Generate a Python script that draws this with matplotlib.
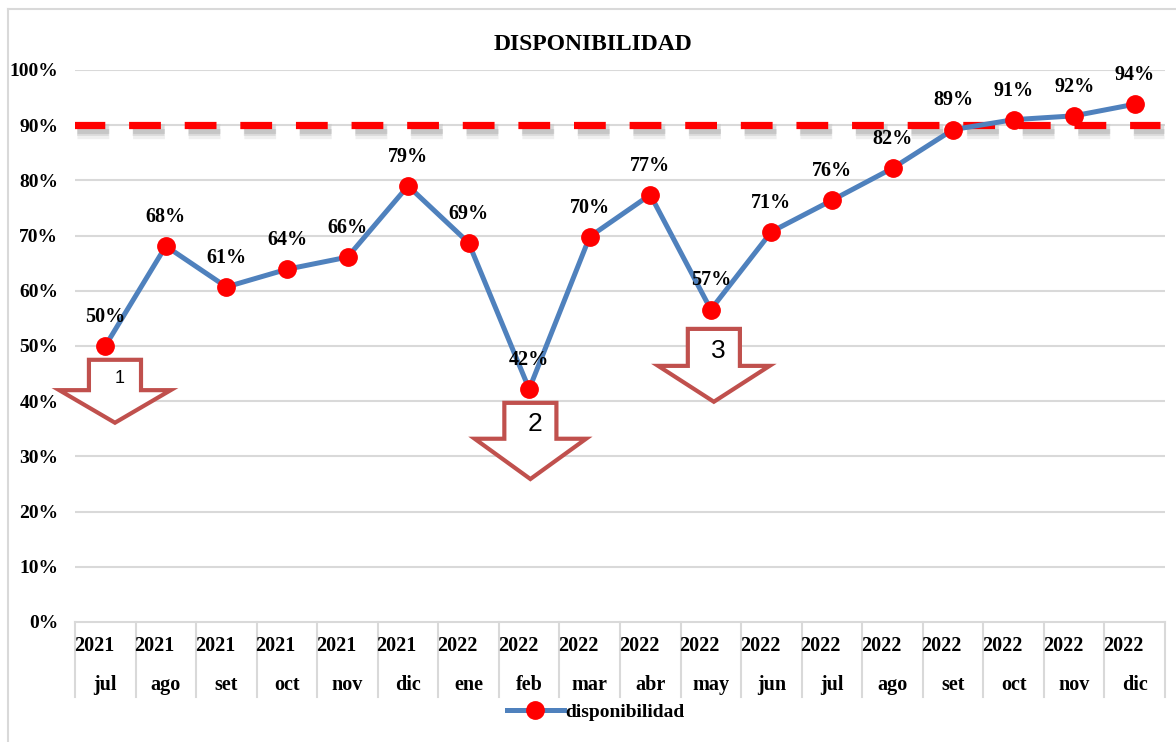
import matplotlib
matplotlib.use("Agg")
import matplotlib.pyplot as plt
import matplotlib.patheffects as pe
from matplotlib.patches import Polygon
from matplotlib.lines import Line2D
import matplotlib.transforms as mtransforms

plt.rcParams['font.family'] = ['Liberation Serif', 'DejaVu Serif']

years = ['2021'] * 6 + ['2022'] * 12
months = ['jul', 'ago', 'set', 'oct', 'nov', 'dic',
          'ene', 'feb', 'mar', 'abr', 'may', 'jun',
          'jul', 'ago', 'set', 'oct', 'nov', 'dic']
disponibilidad = [50.0, 68.1, 60.7, 63.9, 66.1, 79.0,
                  68.7, 42.2, 69.8, 77.4, 56.6, 70.7,
                  76.4, 82.2, 89.2, 91.0, 91.7, 93.8]
meta = 90
yticks = list(range(0, 101, 10))
# arrows: (center x, top, shoulder, tip, label)
arrows = [(0.16, 47.5, 42.0, 36.1, '1'),
          (7.02, 39.7, 33.2, 25.9, '2'),
          (10.05, 53.1, 46.4, 39.9, '3')]

W, H = 1176, 742
fig = plt.figure(figsize=(W / 100, H / 100), dpi=100)
ax = fig.add_axes([75 / W, 1 - 622 / H, (1165 - 75) / W, (622 - 70) / H])

n = len(months)
x = list(range(n))
ax.set_xlim(-0.5, n - 0.5)
ax.set_ylim(0, 100)

# grid
for t in yticks[1:]:
    ax.axhline(t, color='#D9D9D9', lw=1.5, zorder=0)
ax.set_yticks(yticks)
ax.set_yticklabels(['%d%%' % t for t in yticks], fontsize=14, fontweight='bold')
ax.tick_params(axis='y', length=0, pad=12)
ax.set_xticks([])
for s in ['left', 'right', 'top']:
    ax.spines[s].set_visible(False)
ax.spines['bottom'].set_color('#D9D9D9')
ax.spines['bottom'].set_linewidth(1.5)

# category separators and two-level labels
trans = mtransforms.blended_transform_factory(ax.transData, ax.transAxes)
for i in range(n + 1):
    ax.plot([i - 0.5, i - 0.5], [0, -0.136], color='#D9D9D9', lw=1.5,
            transform=trans, clip_on=False)
for i in range(n):
    ax.text(i - 0.52, -0.0435, years[i], transform=trans, ha='left', va='center',
            fontsize=14.5, fontweight='bold')
    ax.text(i, -0.114, months[i], transform=trans, ha='center', va='center',
            fontsize=14.5, fontweight='bold')

# target dashed line with soft shadow
shadow = [pe.SimpleLineShadow(offset=(3, -4), shadow_color='#7F7F7F', alpha=0.12, linewidth=11),
          pe.SimpleLineShadow(offset=(3, -4), shadow_color='#7F7F7F', alpha=0.18, linewidth=7),
          pe.SimpleLineShadow(offset=(3, -4), shadow_color='#7F7F7F', alpha=0.22, linewidth=3.5),
          pe.Normal()]
ax.plot([-0.53, n - 0.58], [meta, meta], color='#FF0000', lw=5.2,
        dashes=(4.4, 3.3), solid_capstyle='butt', dash_capstyle='butt',
        path_effects=shadow, zorder=2)

# main series
ax.plot(x, disponibilidad, color='#4F81BD', lw=3.6, marker='o', markersize=12.5,
        markerfacecolor='#FF0000', markeredgecolor='#FF0000', zorder=4,
        solid_joinstyle='round')
for xi, v in zip(x, disponibilidad):
    ax.annotate('%d%%' % round(v), (xi, v), xytext=(0, 21), textcoords='offset points',
                ha='center', va='center', fontsize=14.5, fontweight='bold', zorder=6,
                annotation_clip=False)

# block arrows
rw, hw = 0.43, 0.92
for cx, top, sh, tip, lab in arrows:
    pts = [(cx - rw, top), (cx + rw, top), (cx + rw, sh), (cx + hw, sh),
           (cx, tip), (cx - hw, sh), (cx - rw, sh)]
    ax.add_patch(Polygon(pts, closed=True, facecolor='white', edgecolor='#C0504D',
                         lw=3, joinstyle='miter', zorder=5, clip_on=False))
    fs = 13 if lab == '1' else 19
    ax.text(cx + 0.08, (top + sh) / 2 - 0.6, lab, ha='center', va='center',
            fontsize=fs, family=['Liberation Sans', 'DejaVu Sans'], zorder=6)

# title
fig.text(593 / W, 1 - 45 / H, 'DISPONIBILIDAD', ha='center', va='center',
         fontsize=17, fontweight='bold')

# legend
handle = Line2D([], [], color='#4F81BD', lw=3.6, marker='o', markersize=12.5,
                markerfacecolor='#FF0000', markeredgecolor='#FF0000')
fig.legend([handle], ['disponibilidad'], loc='center',
           bbox_to_anchor=(596 / W, 1 - 712 / H), frameon=False, handlelength=2.9,
           handletextpad=0.1, prop={'weight': 'bold', 'size': 14})

# outer border (left/top visible)
fig.add_artist(Line2D([8 / W, 8 / W], [0, 1 - 9 / H], color='#D9D9D9', lw=1.5))
fig.add_artist(Line2D([8 / W, 1], [1 - 9 / H, 1 - 9 / H], color='#D9D9D9', lw=1.5))

fig.savefig('out.png', dpi=100)
